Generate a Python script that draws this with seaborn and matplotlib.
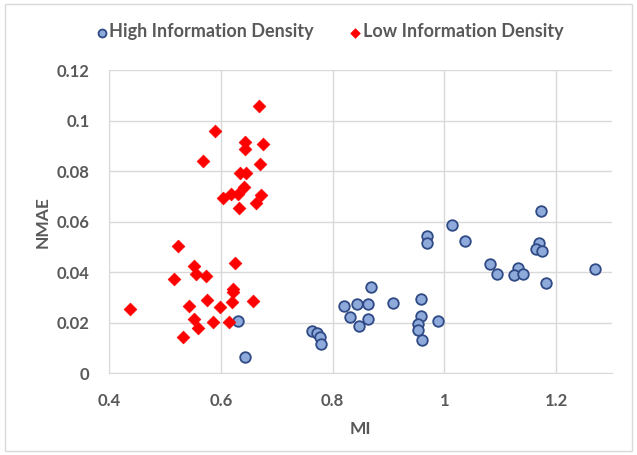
import matplotlib
matplotlib.use("Agg")
import matplotlib.pyplot as plt
import matplotlib.ticker as mticker
from matplotlib.patches import Rectangle
import pandas as pd
import seaborn as sns

# High information density points (MI, NMAE)
high_mi = [0.630, 0.644, 1.014, 0.969, 0.969, 1.037, 1.081, 0.869, 0.821, 0.843,
           0.864, 0.908, 0.959, 0.831, 0.864, 0.848, 0.959, 0.989, 0.952, 0.953,
           0.960, 0.763, 0.772, 0.778, 0.780, 1.172, 1.170, 1.163, 1.174, 1.094,
           1.131, 1.125, 1.140, 1.181, 1.269]
high_nmae = [0.0206, 0.0063, 0.0585, 0.0543, 0.0515, 0.0524, 0.0433, 0.0342, 0.0267, 0.0272,
             0.0275, 0.0279, 0.0292, 0.0221, 0.0213, 0.0188, 0.0228, 0.0205, 0.0193, 0.0170,
             0.0133, 0.0165, 0.0157, 0.0143, 0.0115, 0.0642, 0.0515, 0.0492, 0.0482, 0.0391,
             0.0417, 0.0389, 0.0392, 0.0358, 0.0412]

# Low information density points (MI, NMAE)
low_mi = [0.668, 0.590, 0.644, 0.676, 0.644, 0.568, 0.670, 0.634, 0.646, 0.641,
          0.604, 0.619, 0.631, 0.672, 0.663, 0.632, 0.523, 0.625, 0.553, 0.555,
          0.573, 0.517, 0.622, 0.622, 0.576, 0.657, 0.621, 0.4385, 0.544, 0.598,
          0.553, 0.559, 0.586, 0.614, 0.533]
low_nmae = [0.1057, 0.0958, 0.0916, 0.0907, 0.0887, 0.0841, 0.0828, 0.0793, 0.0793, 0.0737,
            0.0694, 0.0708, 0.0708, 0.0704, 0.0672, 0.0652, 0.0504, 0.0436, 0.0425, 0.0393,
            0.0385, 0.0373, 0.0333, 0.0320, 0.0289, 0.0286, 0.0280, 0.0255, 0.0265, 0.0261,
            0.0214, 0.0179, 0.0201, 0.0201, 0.0143]

high_df = pd.DataFrame({"MI": high_mi, "NMAE": high_nmae})
low_df = pd.DataFrame({"MI": low_mi, "NMAE": low_nmae})

sns.set_style("white")
plt.rcParams["font.family"] = ["Lato", "DejaVu Sans"]
text_color = "#595959"

fig = plt.figure(figsize=(6.37, 4.55), dpi=100)
ax = fig.add_axes([0.171, 0.180, 0.790, 0.666])

sns.scatterplot(data=high_df, x="MI", y="NMAE", ax=ax, marker="o", s=58,
                color="#8eaadb", edgecolor="#2f4a85", linewidth=1.3,
                label="High Information Density", zorder=3)
sns.scatterplot(data=low_df, x="MI", y="NMAE", ax=ax, marker="D", s=42,
                color="#ff0000", edgecolor="#ff0000", linewidth=0.5,
                label="Low Information Density", zorder=3)

ax.set_xlim(0.4, 1.3)
ax.set_ylim(0, 0.12)
ax.xaxis.set_major_locator(mticker.MultipleLocator(0.2))
ax.yaxis.set_major_locator(mticker.MultipleLocator(0.02))
ax.xaxis.set_major_formatter(mticker.FuncFormatter(lambda v, p: f"{v:g}"))
ax.yaxis.set_major_formatter(mticker.FuncFormatter(lambda v, p: f"{round(v, 2):g}"))
ax.grid(True, color="#d9d9d9", linewidth=1)
ax.set_axisbelow(True)
for side in ["top", "right"]:
    ax.spines[side].set_visible(False)
ax.spines["left"].set_color("#d9d9d9")
ax.spines["bottom"].set_color("#d9d9d9")
ax.tick_params(axis="x", length=0, labelsize=12, labelcolor=text_color, pad=14)
ax.tick_params(axis="y", length=0, labelsize=12, labelcolor=text_color, pad=14)
for lab in ax.get_xticklabels() + ax.get_yticklabels():
    lab.set_fontweight("bold")

ax.set_xlabel("MI", fontsize=12.5, fontweight="bold", color=text_color, labelpad=9)
ax.set_ylabel("NMAE", fontsize=12.5, fontweight="bold", color=text_color, labelpad=4)

handles, labels = ax.get_legend_handles_labels()
ax.get_legend().remove()
leg = fig.legend(handles, labels, loc="center", bbox_to_anchor=(0.518, 0.930), ncol=2,
                 frameon=False, fontsize=13, handlelength=0.6, handletextpad=0.1,
                 columnspacing=2.0, markerscale=0.75)
for t in leg.get_texts():
    t.set_color(text_color)
    t.set_fontweight("bold")

fig.patches.append(Rectangle((0.008, 0.008), 0.984, 0.984, transform=fig.transFigure,
                             fill=False, edgecolor="#d9d9d9", linewidth=1))

fig.savefig("out.png", dpi=100)
